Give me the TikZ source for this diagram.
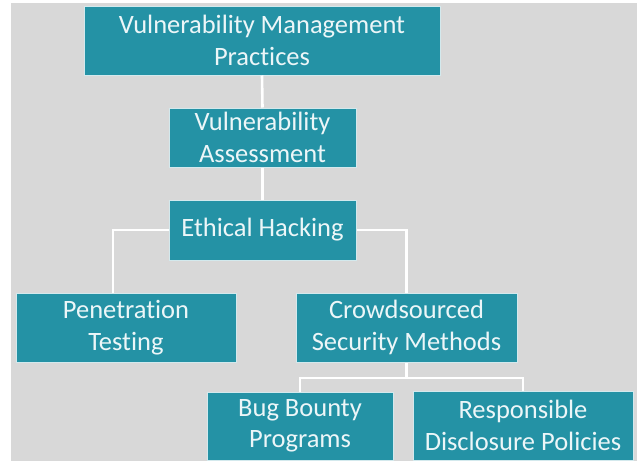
\documentclass[tikz,border=0pt]{standalone}
\usepackage{fontspec}
\setmainfont{Carlito}[Ligatures={NoCommon,NoContextual},Contextuals=NoAlternate]
\usetikzlibrary{calc}
\definecolor{tealbox}{RGB}{36,146,165}
\definecolor{bggray}{RGB}{216,216,216}
\definecolor{boxtext}{RGB}{236,246,248}
\begin{document}
\begin{tikzpicture}[x=1pt,y=-1pt,
  box/.style={fill=tealbox, draw=white!80!tealbox, line width=1pt, text=boxtext,
    align=center, inner sep=0pt, font=\fontsize{26.5}{31.5}\selectfont},
  conn/.style={draw=white, line width=2.6pt}]
\useasboundingbox (0,0) rectangle (637,461);
\fill[bggray] (11,3) rectangle (637,461);
\node[box, minimum width=356pt, minimum height=69pt] (top) at (262,40.5) {Vulnerability Management\\Practices};
\node[box, minimum width=187pt, minimum height=59pt] (va) at (262.5,137.5) {Vulnerability\\Assessment};
\node[box, minimum width=187pt, minimum height=60pt] (eh) at (262.5,230) {Ethical Hacking};
\node[box, minimum width=220pt, minimum height=69pt] (pen) at (126,327.5) {Penetration\\Testing};
\node[box, minimum width=221pt, minimum height=69pt] (crowd) at (406.5,327.5) {Crowdsourced\\Security Methods};
\node[box, minimum width=186pt, minimum height=68pt] (bug) at (300,426) {Bug Bounty\\Programs};
\node[box, minimum width=220pt, minimum height=69pt] (resp) at (523,425.5) {Responsible\\Disclosure Policies};
\draw[conn] (top.south) -- (va.north);
\draw[conn] (va.south) -- (eh.north);
\coordinate (penin) at ($(pen.north)+(-13,0)$);
\draw[conn] (eh.west) -| (penin);
\draw[conn] (eh.east) -| (crowd.north);
\coordinate (bus) at ($(crowd.south)+(0,15.5)$);
\draw[conn] (crowd.south) -- (bus) -| (bug.north);
\draw[conn] (bus) -| (resp.north);
\end{tikzpicture}
\end{document}
